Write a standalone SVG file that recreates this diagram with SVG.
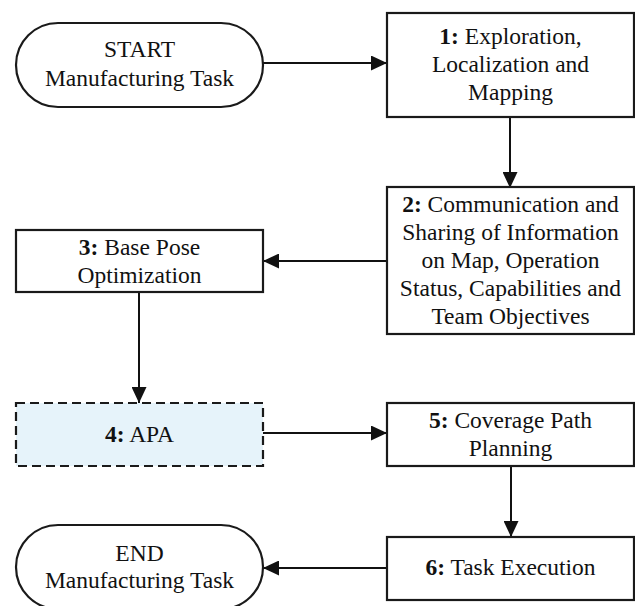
<svg xmlns="http://www.w3.org/2000/svg" width="635" height="606" viewBox="0 0 635 606">
<defs>
<marker id="ah" markerUnits="userSpaceOnUse" markerWidth="17" markerHeight="15" refX="16" refY="7.5" orient="auto">
<path d="M0,0 L16,7.5 L0,15 z" fill="#111"/>
</marker>
<style>
.box{fill:#fff;stroke:#1a1a1a;stroke-width:2.2}
.dash{fill:#e6f3fa;stroke:#1a1a1a;stroke-width:2.2;stroke-dasharray:9 5}
.t{font-family:"Liberation Serif","Times New Roman",Times,serif;font-size:23.5px;fill:#111;text-anchor:middle}
.b{font-weight:bold}
.c{fill:none;stroke:#111;stroke-width:2;marker-end:url(#ah)}
</style>
</defs>
<rect width="635" height="606" fill="#fff"/>
<g id="connectors">
<path class="c" d="M263,63 H387"/>
<path class="c" d="M510,117 V188"/>
<path class="c" d="M387,261 H263"/>
<path class="c" d="M139,292 V403"/>
<path class="c" d="M263,433 H387"/>
<path class="c" d="M511,466 V537"/>
<path class="c" d="M387,568 H263"/>
</g>
<g id="start">
<rect class="box" x="16" y="23" width="247" height="84" rx="42" ry="42"/>
<text class="t" x="139.5" y="57">START</text>
<text class="t" x="139.5" y="86">Manufacturing Task</text>
</g>
<g id="n1">
<rect class="box" x="387" y="13" width="247" height="104"/>
<text class="t" x="510.5" y="44"><tspan class="b">1:</tspan> Exploration,</text>
<text class="t" x="510.5" y="72">Localization and</text>
<text class="t" x="510.5" y="100">Mapping</text>
</g>
<g id="n2">
<rect class="box" x="387" y="187" width="247" height="147"/>
<text class="t" x="510.5" y="212"><tspan class="b">2:</tspan> Communication and</text>
<text class="t" x="510.5" y="240">Sharing of Information</text>
<text class="t" x="510.5" y="268">on Map, Operation</text>
<text class="t" x="510.5" y="296">Status, Capabilities and</text>
<text class="t" x="510.5" y="324">Team Objectives</text>
</g>
<g id="n3">
<rect class="box" x="16" y="230" width="247" height="62"/>
<text class="t" x="139.5" y="255"><tspan class="b">3:</tspan> Base Pose</text>
<text class="t" x="139.5" y="283">Optimization</text>
</g>
<g id="n4">
<rect class="dash" x="16" y="403" width="247" height="63"/>
<text class="t" x="139.5" y="442"><tspan class="b">4:</tspan> APA</text>
</g>
<g id="n5">
<rect class="box" x="387" y="403" width="247" height="63"/>
<text class="t" x="510.5" y="428"><tspan class="b">5:</tspan> Coverage Path</text>
<text class="t" x="510.5" y="456">Planning</text>
</g>
<g id="n6">
<rect class="box" x="387" y="537" width="247" height="63"/>
<text class="t" x="510.5" y="575"><tspan class="b">6:</tspan> Task Execution</text>
</g>
<g id="end">
<rect class="box" x="16" y="525" width="247" height="84" rx="42" ry="42"/>
<text class="t" x="139.5" y="561">END</text>
<text class="t" x="139.5" y="588">Manufacturing Task</text>
</g>
</svg>
